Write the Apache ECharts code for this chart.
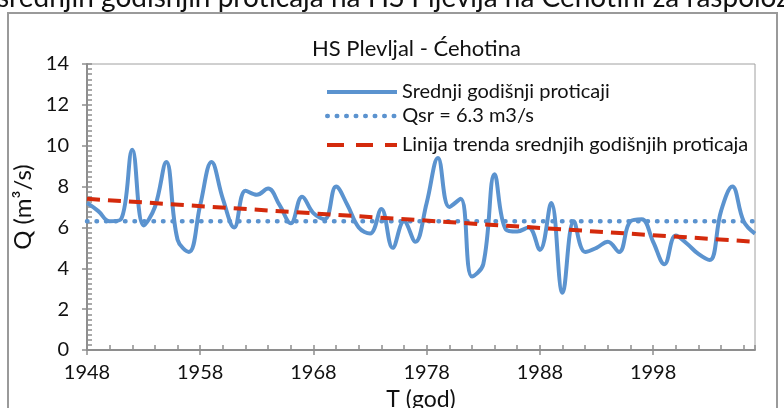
<!DOCTYPE html>
<html>
<head>
<meta charset="utf-8">
<script src="https://cdn.jsdelivr.net/npm/echarts@6/dist/echarts.min.js"></script>
<style>
  html, body { margin: 0; padding: 0; background: #fff; }
  #chart { width: 784px; height: 408px; }
</style>
</head>
<body>
<div id="chart"></div>
<script>
// Mean annual discharge, HS Pljevlja on the Ćehotina river
const years = [
  1948, 1949, 1950, 1951, 1952, 1953, 1954, 1955, 1956, 1957,
  1958, 1959, 1960, 1961, 1962, 1963, 1964, 1965, 1966, 1967,
  1968, 1969, 1970, 1971, 1972, 1973, 1974, 1975, 1976, 1977,
  1978, 1979, 1980, 1981, 1982, 1983, 1984, 1985, 1986, 1987,
  1988, 1989, 1990, 1991, 1992, 1993, 1994, 1995, 1996, 1997,
  1998, 1999, 2000, 2001, 2002, 2003, 2004, 2005, 2006, 2007
];
const flow = [
  7.2, 6.8, 6.3, 6.4, 9.8, 6.1, 7.0, 9.2, 5.4, 4.8,
  7.1, 9.2, 7.4, 6.0, 7.8, 7.6, 7.9, 7.1, 6.2, 7.5,
  6.7, 6.4, 8.0, 7.1, 6.0, 5.7, 6.9, 5.0, 6.3, 5.3,
  7.2, 9.4, 7.0, 7.4, 3.6, 4.2, 8.6, 5.9, 5.8, 6.0,
  4.9, 7.2, 2.8, 6.3, 4.8, 5.0, 5.3, 4.8, 6.3, 6.4,
  5.3, 4.2, 5.6, 5.2, 4.7, 4.4, 6.8, 8.0, 6.3, 5.7
];
// long-term mean
const meanFlow = 6.3;
// trend line values at the first and last year
const trendEnds = [7.4, 5.3];
const xTickYears = [1948, 1958, 1968, 1978, 1988, 1998];

const seriesNames = [
  'Srednji godišnji proticaji',
  'Qsr = 6.3 m3/s',
  'Linija trenda srednjih godišnjih proticaja'
];

const firstYear = years[0];
const lastYear = years[years.length - 1];
const FONT = 'Lato';
const BLUE = '#5b93cf';
const RED = '#d42a0c';
const GRAY = '#8e8e8e';
const INK = '#111';

const flowData = years.map((y, i) => [y - firstYear, flow[i]]);
const meanData = [[0, meanFlow], [lastYear - firstYear, meanFlow]];
const trendData = [[0, trendEnds[0]], [lastYear - firstYear, trendEnds[1]]];

const chart = echarts.init(document.getElementById('chart'));

// one legend block per entry so each row sits at its own height
function legendAt(name, top, lineStyle) {
  return {
    data: [name], orient: 'vertical', left: 325, top: top, padding: 0,
    itemWidth: 70, itemHeight: 14, itemGap: 0, selectedMode: false,
    itemStyle: { opacity: 0 },
    lineStyle: lineStyle,
    textStyle: { fontFamily: FONT, fontSize: 20, color: INK }
  };
}

const yBase = {
  type: 'value', min: 0, max: 14, interval: 2, position: 'left'
};

chart.setOption({
  animation: false,
  textStyle: { fontFamily: FONT },
  title: {
    text: 'HS Plevljal - Ćehotina',
    left: 307, top: 33,
    textStyle: { fontFamily: FONT, fontSize: 22, fontWeight: 'normal', color: INK }
  },
  legend: [
    legendAt(seriesNames[0], 82, { width: 4, color: BLUE, type: 'solid' }),
    legendAt(seriesNames[1], 106, { width: 4.5, color: BLUE, type: [0.5, 9], cap: 'round' }),
    legendAt(seriesNames[2], 135, { width: 4, color: RED, type: [17, 12] })
  ],
  grid: {
    left: 87, right: 29, top: 64, bottom: 58,
    outerBoundsMode: 'none', containLabel: false,
    show: true, borderColor: '#a0a0a0', borderWidth: 1, backgroundColor: 'transparent'
  },
  xAxis: [{
    type: 'value', min: 0, max: lastYear - firstYear, interval: 10,
    name: 'T (god)', nameLocation: 'middle', nameGap: 38,
    nameTextStyle: { fontFamily: FONT, fontSize: 23, color: INK },
    axisLine: { lineStyle: { color: GRAY, width: 2 } },
    axisTick: { show: true, inside: false, length: 5, lineStyle: { color: GRAY, width: 1.5 } },
    minorTick: { show: false },
    splitLine: { show: false },
    axisLabel: {
      margin: 13, fontFamily: FONT, fontSize: 20, color: INK,
      showMaxLabel: false,
      formatter: v => (xTickYears.indexOf(v + firstYear) >= 0 ? String(v + firstYear) : '')
    }
  }, {
    type: 'value', min: 0, max: lastYear - firstYear, interval: 10, position: 'bottom',
    axisLine: { show: false },
    axisTick: { show: true, inside: true, length: 5, lineStyle: { color: GRAY, width: 1.5 } },
    minorTick: { show: true, splitNumber: 5, length: 5, lineStyle: { color: GRAY, width: 1.5 } },
    axisLabel: { show: false },
    splitLine: { show: false }
  }],
  yAxis: [Object.assign({}, yBase, {
    name: 'Q (m³/s)', nameLocation: 'middle', nameGap: 31,
    nameTextStyle: { fontFamily: FONT, fontSize: 24, color: INK },
    axisLine: { show: true, lineStyle: { color: GRAY, width: 2 } },
    axisTick: { show: true, inside: false, length: 5, lineStyle: { color: GRAY, width: 1.5 } },
    splitLine: { show: false },
    axisLabel: { margin: 18, fontFamily: FONT, fontSize: 20, color: INK }
  }), Object.assign({}, yBase, {
    axisLine: { show: false },
    axisTick: { show: true, inside: true, length: 5, lineStyle: { color: GRAY, width: 1.5 } },
    minorTick: { show: true, splitNumber: 8, length: 5, lineStyle: { color: GRAY, width: 1.5 } },
    axisLabel: { show: false },
    splitLine: { show: false }
  })],
  graphic: [
    {
      type: 'rect', silent: true,
      shape: { x: 8, y: 13, width: 769, height: 420 },
      style: { fill: 'none', stroke: '#9a9a9a', lineWidth: 2 }
    },
    {
      type: 'text', silent: true, left: -3, top: -16,
      style: {
        text: 'srednjih godišnjih proticaja na HS Pljevlja na Ćehotini za raspoloživi period',
        font: '28px Lato', fill: INK
      }
    }
  ],
  series: [
    {
      name: seriesNames[1], type: 'line', data: meanData, z: 2,
      symbol: 'none', silent: true,
      lineStyle: { color: BLUE, width: 4.5, type: [0.5, 9], cap: 'round' },
      itemStyle: { color: BLUE }
    },
    {
      name: seriesNames[0], type: 'line', data: flowData, z: 3,
      smooth: 0.4, symbol: 'none', silent: true,
      lineStyle: { color: BLUE, width: 4 },
      itemStyle: { color: BLUE }
    },
    {
      name: seriesNames[2], type: 'line', data: trendData, z: 4,
      symbol: 'none', silent: true,
      lineStyle: { color: RED, width: 4, type: [13, 8] },
      itemStyle: { color: RED }
    }
  ]
});
</script>
</body>
</html>
